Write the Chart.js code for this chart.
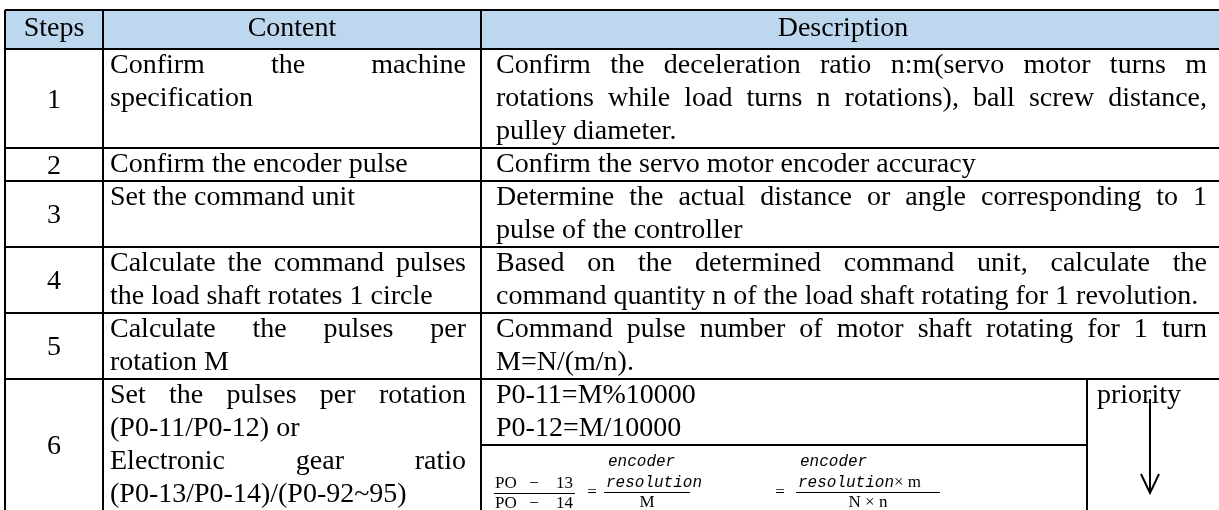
<!DOCTYPE html>
<html lang="en">
<head>
    <meta charset="UTF-8">
    <title>Electronic gear setting steps</title>
    <script src="https://cdn.jsdelivr.net/npm/chart.js"></script>
    <style>
        body { margin: 0; background: #fff; }
        canvas { display: block; }
    </style>
</head>
<body>
    <canvas id="stepsTable" width="1219" height="510"></canvas>
    <script>
        // table text
        const headerLabels = ['Steps', 'Content', 'Description'];
        const stepLabels = ['1', '2', '3', '4', '5', '6'];
        // each cell is a list of paragraphs, each paragraph a list of lines
        const contentText = [
            [['Confirm the machine', 'specification']],
            [['Confirm the encoder pulse']],
            [['Set the command unit']],
            [['Calculate the command pulses', 'the load shaft rotates 1 circle']],
            [['Calculate the pulses per', 'rotation M']],
            [['Set the pulses per rotation', '(P0-11/P0-12) or'], ['Electronic gear ratio', '(P0-13/P0-14)/(P0-92~95)']]
        ];
        const descText = [
            [['Confirm the deceleration ratio n:m(servo motor turns m', 'rotations while load turns n rotations), ball screw distance,', 'pulley diameter.']],
            [['Confirm the servo motor encoder accuracy']],
            [['Determine the actual distance or angle corresponding to 1', 'pulse of the controller']],
            [['Based on the determined command unit, calculate the', 'command quantity n of the load shaft rotating for 1 revolution.']],
            [['Command pulse number of motor shaft rotating for 1 turn', 'M=N/(m/n).']],
            [['P0-11=M%10000'], ['P0-12=M/10000']]
        ];
        const formulaA = [['PO', '−', '13'], ['PO', '−', '14']];
        const formulaB = [['encoder', 'resolution'], 'M'];
        const formulaC = [['encoder', 'resolution× m'], 'N × n'];
        const priorityLabel = 'priority';

        // layout (pixels in scale units)
        const colX = [5, 103, 481, 1219];
        const priorityX = 1087;
        const tableTop = 10;
        const headerH = 39;
        const lineH = 33;
        const serif = '28px "Liberation Serif", "Times New Roman", serif';
        const mathSerif = '17px "Liberation Serif", serif';
        const mathItalic = 'italic 16px "Liberation Mono", monospace';
        const fracY = 492;

        function lineCount(cell) {
            return cell.reduce((n, p) => n + p.length, 0);
        }

        function drawJustified(ctx, text, x0, x1, yb, justify) {
            if (!justify) { ctx.fillText(text, x0, yb); return; }
            const words = text.split(' ');
            const widths = words.map(w => ctx.measureText(w).width);
            const total = widths.reduce((a, b) => a + b, 0);
            const gap = (x1 - x0 - total) / (words.length - 1);
            let x = x0;
            words.forEach((w, i) => { ctx.fillText(w, x, yb); x += widths[i] + gap; });
        }

        function drawCell(ctx, cell, x0, x1, top, sx, sy) {
            let k = 0;
            cell.forEach(par => {
                par.forEach((line, i) => {
                    const yb = sy(top + k * lineH + 24);
                    drawJustified(ctx, line, sx(x0), sx(x1), yb, i < par.length - 1);
                    k++;
                });
            });
        }

        function rule(ctx, x0, x1, y) {
            ctx.lineWidth = 1;
            ctx.beginPath();
            ctx.moveTo(x0, Math.round(y) + 0.5);
            ctx.lineTo(x1, Math.round(y) + 0.5);
            ctx.stroke();
        }

        // spaced "PO − 13" style term over a given width
        function drawSpread(ctx, parts, x0, x1, yb) {
            ctx.textAlign = 'left';
            ctx.fillText(parts[0], x0, yb);
            ctx.textAlign = 'center';
            ctx.fillText(parts[1], (x0 + x1) / 2, yb);
            ctx.textAlign = 'right';
            ctx.fillText(parts[2], x1, yb);
            ctx.textAlign = 'left';
        }

        // two-line italic numerator, left aligned, over a serif denominator
        function drawWordFraction(ctx, frac, x0, x1, sx, sy) {
            ctx.font = mathItalic;
            ctx.textAlign = 'left';
            ctx.fillText(frac[0][0], sx(x0 + 4), sy(fracY - 26));
            const parts = frac[0][1].split('×');
            ctx.fillText(parts[0], sx(x0 + 2), sy(fracY - 5));
            if (parts.length > 1) {
                const w = ctx.measureText(parts[0]).width;
                ctx.font = mathSerif;
                ctx.fillText('×' + parts[1], sx(x0 + 2) + w, sy(fracY - 5));
            }
            rule(ctx, sx(x0), sx(x1), sy(fracY));
            ctx.font = mathSerif;
            ctx.textAlign = 'center';
            ctx.fillText(frac[1], sx((x0 + x1) / 2), sy(fracY + 15));
            ctx.textAlign = 'left';
        }

        const tablePlugin = {
            id: 'tablePlugin',
            afterDraw(chart) {
                const ctx = chart.ctx;
                const sx = v => chart.scales.x.getPixelForValue(v);
                const sy = v => chart.scales.y.getPixelForValue(v);

                // row tops from the number of lines in each row
                const rowTops = [tableTop, tableTop + headerH];
                stepLabels.forEach((s, i) => {
                    const n = Math.max(lineCount(contentText[i]), lineCount(descText[i]) + (i === 5 ? 2 : 0));
                    rowTops.push(rowTops[rowTops.length - 1] + n * lineH);
                });
                const bottom = rowTops[rowTops.length - 1];

                ctx.save();
                // header fill
                ctx.fillStyle = '#bdd7ee';
                ctx.fillRect(sx(colX[0]), sy(rowTops[0]), sx(colX[3]) - sx(colX[0]), sy(rowTops[1]) - sy(rowTops[0]));

                // grid
                ctx.strokeStyle = '#000';
                ctx.lineWidth = 2;
                ctx.beginPath();
                rowTops.slice(0, -1).forEach(t => {
                    ctx.moveTo(sx(colX[0]), sy(t));
                    ctx.lineTo(sx(colX[3]), sy(t));
                });
                colX.slice(0, 3).forEach(c => {
                    ctx.moveTo(sx(c), sy(rowTops[0]));
                    ctx.lineTo(sx(c), sy(bottom));
                });
                const r6 = rowTops[6];
                ctx.moveTo(sx(priorityX), sy(r6));
                ctx.lineTo(sx(priorityX), sy(bottom));
                ctx.moveTo(sx(colX[2]), sy(r6 + 2 * lineH));
                ctx.lineTo(sx(priorityX), sy(r6 + 2 * lineH));
                ctx.stroke();

                // header text
                ctx.fillStyle = '#000';
                ctx.font = serif;
                ctx.textBaseline = 'alphabetic';
                ctx.textAlign = 'center';
                const headCenters = [54, 292, 843];
                headerLabels.forEach((h, i) => ctx.fillText(h, sx(headCenters[i]), sy(rowTops[0] + 26)));

                // step numbers, centred in each row
                stepLabels.forEach((s, i) => {
                    const mid = (rowTops[i + 1] + rowTops[i + 2]) / 2;
                    ctx.fillText(s, sx(54), sy(mid + 9));
                });

                // content and description
                ctx.textAlign = 'left';
                stepLabels.forEach((s, i) => {
                    const top = rowTops[i + 1];
                    drawCell(ctx, contentText[i], 110, 466, top, sx, sy);
                    drawCell(ctx, descText[i], 496, 1207, top, sx, sy);
                });

                // priority column
                ctx.fillText(priorityLabel, sx(1097), sy(r6 + 24));
                ctx.lineWidth = 2;
                ctx.beginPath();
                ctx.moveTo(sx(1150), sy(r6 + 20));
                ctx.lineTo(sx(1150), sy(r6 + 114));
                ctx.moveTo(sx(1141), sy(r6 + 95));
                ctx.lineTo(sx(1150), sy(r6 + 114));
                ctx.lineTo(sx(1159), sy(r6 + 95));
                ctx.stroke();

                // gear ratio formula
                ctx.font = mathSerif;
                drawSpread(ctx, formulaA[0], sx(495), sx(573), sy(fracY - 4));
                rule(ctx, sx(494), sx(575), sy(fracY + 1));
                drawSpread(ctx, formulaA[1], sx(495), sx(573), sy(fracY + 16));
                ctx.textAlign = 'center';
                ctx.fillText('=', sx(592), sy(fracY + 5));
                drawWordFraction(ctx, formulaB, 604, 690, sx, sy);
                ctx.font = mathSerif;
                ctx.textAlign = 'center';
                ctx.fillText('=', sx(780), sy(fracY + 5));
                drawWordFraction(ctx, formulaC, 796, 940, sx, sy);
                ctx.restore();
            }
        };

        new Chart(document.getElementById('stepsTable'), {
            type: 'scatter',
            data: { datasets: [] },
            options: {
                responsive: false,
                animation: false,
                layout: { padding: 0 },
                plugins: { legend: { display: false }, tooltip: { enabled: false } },
                scales: {
                    x: { type: 'linear', min: 0, max: 1219, display: false },
                    y: { type: 'linear', min: 0, max: 510, reverse: true, display: false }
                }
            },
            plugins: [tablePlugin]
        });
    </script>
</body>
</html>
